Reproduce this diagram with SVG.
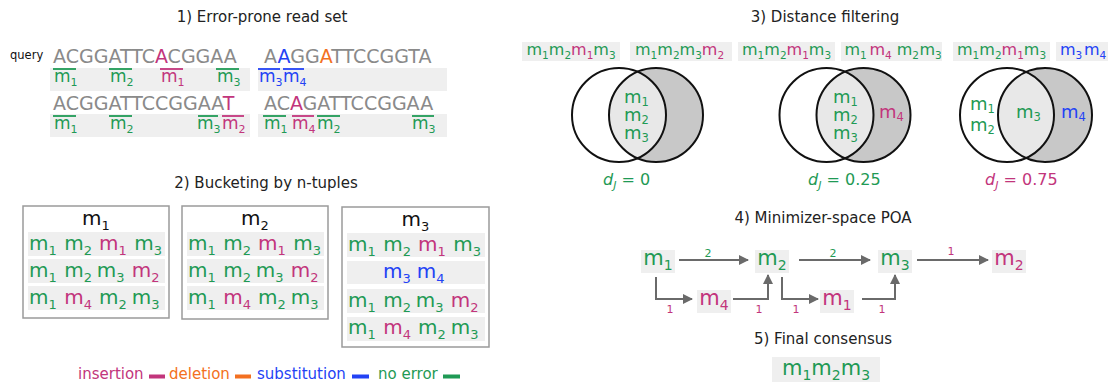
<svg xmlns="http://www.w3.org/2000/svg" width="1111" height="383" viewBox="0 0 1111 383">
<style>
  text { font-family: "DejaVu Sans", "Noto Sans", sans-serif; }
  .title { font-size: 15px; fill: #222; text-anchor: middle; }
  .g { fill: #1f9a55; } .mg { fill: #c2357c; } .b { fill: #2342f5; } .o { fill: #f37021; } .k { fill: #111; }
  .seq { font-size: 19px; fill: #8a8a8a; }
  .band { fill: #efefef; }
  .lab { font-size: 17px; } .lab tspan { font-size: 11px; }
  .bk { font-size: 20px; } .bk tspan { font-size: 13px; }
  .hd { font-size: 20px; fill: #111; text-anchor: middle; } .hd tspan { font-size: 13px; }
  .tag { font-size: 16px; } .tag .s { font-size: 10.5px; }
  .vn { font-size: 18px; } .vn tspan { font-size: 11.5px; }
  .poa { font-size: 21px; text-anchor: middle; } .poa .s { font-size: 14px; }
  .el { font-size: 11px; text-anchor: middle; }
  .dj { font-size: 16px; } .dj .i { font-style: italic; } .dj .sj { font-style: italic; font-size: 11px; }
  .leg { font-size: 15px; }
  .ol { stroke-width: 1.8; }
  .olg { stroke: #1f9a55; } .olm { stroke: #c2357c; } .olb { stroke: #2342f5; }
  .box { fill: none; stroke: #9a9a9a; stroke-width: 1.5; }
  .circ { fill: none; stroke: #111; stroke-width: 2; }
  .edge { fill: none; stroke: #6a6a6a; stroke-width: 2; }
</style>
<defs>
  <marker id="arr" viewBox="0 0 10 10" refX="9" refY="5" markerWidth="5" markerHeight="5" orient="auto" markerUnits="strokeWidth">
    <path d="M0,0 L10,5 L0,10 z" fill="#6a6a6a"/>
  </marker>
  <clipPath id="cl1"><circle cx="619" cy="115" r="47"/></clipPath>
  <clipPath id="cl2"><circle cx="826.5" cy="115" r="47"/></clipPath>
  <clipPath id="cl3"><circle cx="1007" cy="115" r="47"/></clipPath>
</defs>

<!-- titles -->
<g id="titles">
  <text class="title" x="262" y="22">1) Error-prone read set</text>
  <text class="title" x="266" y="188">2) Bucketing by n-tuples</text>
  <text class="title" x="825" y="22">3) Distance filtering</text>
  <text class="title" x="823" y="223">4) Minimizer-space POA</text>
  <text class="title" x="823" y="344">5) Final consensus</text>
</g>

<!-- 1) reads with their minimizers -->
<g id="reads">
  <text x="10" y="59" font-size="11.5" fill="#111">query</text>
  <rect class="band" x="50" y="68" width="200" height="23"/>
  <rect class="band" x="258" y="68" width="189" height="23"/>
  <rect class="band" x="50" y="114" width="200" height="23"/>
  <rect class="band" x="258" y="114" width="189" height="23"/>

  <text class="seq" x="53" y="63">ACGGATTC<tspan class="mg">A</tspan>CGGAA</text>
  <text class="seq" x="264" y="63">A<tspan class="b">A</tspan>GG<tspan class="o">A</tspan>TTCCGGTA</text>
  <text class="seq" x="53" y="110">ACGGATTCCGGAA<tspan class="mg">T</tspan></text>
  <text class="seq" x="264" y="110">AC<tspan class="mg">A</tspan>GATTCCGGAA</text>

  <!-- overlines -->
  <g class="ol">
    <line class="olg" x1="53" y1="69" x2="76" y2="69"/>
    <line class="olg" x1="109" y1="69" x2="132" y2="69"/>
    <line class="olm" x1="160" y1="69" x2="183" y2="69"/>
    <line class="olg" x1="216" y1="69" x2="239" y2="69"/>
    <line class="olb" x1="258" y1="69" x2="280" y2="69"/>
    <line class="olb" x1="283" y1="69" x2="304" y2="69"/>
    <line class="olg" x1="53" y1="116" x2="76" y2="116"/>
    <line class="olg" x1="109" y1="116" x2="132" y2="116"/>
    <line class="olg" x1="198" y1="116" x2="218" y2="116"/>
    <line class="olm" x1="222" y1="116" x2="244" y2="116"/>
    <line class="olg" x1="263" y1="116" x2="286" y2="116"/>
    <line class="olm" x1="292" y1="116" x2="314" y2="116"/>
    <line class="olg" x1="317" y1="116" x2="340" y2="116"/>
    <line class="olg" x1="412" y1="116" x2="434" y2="116"/>
  </g>
  <text class="lab g" x="54" y="82">m<tspan dy="4">1</tspan></text>
  <text class="lab g" x="110" y="82">m<tspan dy="4">2</tspan></text>
  <text class="lab mg" x="161" y="82">m<tspan dy="4">1</tspan></text>
  <text class="lab g" x="217" y="82">m<tspan dy="4">3</tspan></text>
  <text class="lab b" x="259" y="82">m<tspan dy="4">3</tspan></text>
  <text class="lab b" x="283" y="82">m<tspan dy="4">4</tspan></text>
  <text class="lab g" x="54" y="129">m<tspan dy="4">1</tspan></text>
  <text class="lab g" x="110" y="129">m<tspan dy="4">2</tspan></text>
  <text class="lab g" x="197" y="129">m<tspan dy="4">3</tspan></text>
  <text class="lab mg" x="222" y="129">m<tspan dy="4">2</tspan></text>
  <text class="lab g" x="264" y="129">m<tspan dy="4">1</tspan></text>
  <text class="lab mg" x="292" y="129">m<tspan dy="4">4</tspan></text>
  <text class="lab g" x="317" y="129">m<tspan dy="4">2</tspan></text>
  <text class="lab g" x="412" y="129">m<tspan dy="4">3</tspan></text>
</g>

<!-- 2) buckets -->
<g id="bucket-m1">
  <rect class="box" x="23" y="206" width="146" height="112"/>
  <text class="hd" x="96" y="225">m<tspan dy="5">1</tspan></text>
  <rect class="band" x="28" y="232" width="137" height="24"/>
  <rect class="band" x="28" y="259" width="137" height="24"/>
  <rect class="band" x="28" y="286" width="137" height="24"/>
  <text class="bk g" x="29" y="250">m<tspan dy="5">1</tspan></text>
  <text class="bk g" x="64.3" y="250">m<tspan dy="5">2</tspan></text>
  <text class="bk mg" x="99" y="250">m<tspan dy="5">1</tspan></text>
  <text class="bk g" x="134.3" y="250">m<tspan dy="5">3</tspan></text>
  <text class="bk g" x="29" y="277">m<tspan dy="5">1</tspan></text>
  <text class="bk g" x="64.3" y="277">m<tspan dy="5">2</tspan></text>
  <text class="bk g" x="96.7" y="277">m<tspan dy="5">3</tspan></text>
  <text class="bk mg" x="131.7" y="277">m<tspan dy="5">2</tspan></text>
  <text class="bk g" x="29" y="304">m<tspan dy="5">1</tspan></text>
  <text class="bk mg" x="64.3" y="304">m<tspan dy="5">4</tspan></text>
  <text class="bk g" x="99" y="304">m<tspan dy="5">2</tspan></text>
  <text class="bk g" x="131.7" y="304">m<tspan dy="5">3</tspan></text>
</g>
<g id="bucket-m2">
  <rect class="box" x="182" y="206" width="146" height="113"/>
  <text class="hd" x="255" y="225">m<tspan dy="5">2</tspan></text>
  <rect class="band" x="187" y="232" width="137" height="24"/>
  <rect class="band" x="187" y="259" width="137" height="24"/>
  <rect class="band" x="187" y="286" width="137" height="24"/>
  <text class="bk g" x="188" y="250">m<tspan dy="5">1</tspan></text>
  <text class="bk g" x="223.3" y="250">m<tspan dy="5">2</tspan></text>
  <text class="bk mg" x="258" y="250">m<tspan dy="5">1</tspan></text>
  <text class="bk g" x="293.3" y="250">m<tspan dy="5">3</tspan></text>
  <text class="bk g" x="188" y="277">m<tspan dy="5">1</tspan></text>
  <text class="bk g" x="223.3" y="277">m<tspan dy="5">2</tspan></text>
  <text class="bk g" x="255.7" y="277">m<tspan dy="5">3</tspan></text>
  <text class="bk mg" x="290.7" y="277">m<tspan dy="5">2</tspan></text>
  <text class="bk g" x="188" y="304">m<tspan dy="5">1</tspan></text>
  <text class="bk mg" x="223.3" y="304">m<tspan dy="5">4</tspan></text>
  <text class="bk g" x="258" y="304">m<tspan dy="5">2</tspan></text>
  <text class="bk g" x="290.7" y="304">m<tspan dy="5">3</tspan></text>
</g>
<g id="bucket-m3">
  <rect class="box" x="342" y="207" width="147" height="140"/>
  <text class="hd" x="415.5" y="226">m<tspan dy="5">3</tspan></text>
  <rect class="band" x="347" y="233" width="138" height="24"/>
  <rect class="band" x="347" y="261" width="138" height="23"/>
  <rect class="band" x="347" y="289" width="138" height="24"/>
  <rect class="band" x="347" y="317" width="138" height="24"/>
  <text class="bk g" x="348" y="251">m<tspan dy="5">1</tspan></text>
  <text class="bk g" x="383.3" y="251">m<tspan dy="5">2</tspan></text>
  <text class="bk mg" x="418" y="251">m<tspan dy="5">1</tspan></text>
  <text class="bk g" x="453.3" y="251">m<tspan dy="5">3</tspan></text>
  <text class="bk b" x="383" y="278">m<tspan dy="5">3</tspan></text>
  <text class="bk b" x="416.7" y="278">m<tspan dy="5">4</tspan></text>
  <text class="bk g" x="348" y="307">m<tspan dy="5">1</tspan></text>
  <text class="bk g" x="383.3" y="307">m<tspan dy="5">2</tspan></text>
  <text class="bk g" x="415.7" y="307">m<tspan dy="5">3</tspan></text>
  <text class="bk mg" x="450.7" y="307">m<tspan dy="5">2</tspan></text>
  <text class="bk g" x="348" y="334">m<tspan dy="5">1</tspan></text>
  <text class="bk mg" x="383.3" y="334">m<tspan dy="5">4</tspan></text>
  <text class="bk g" x="418" y="334">m<tspan dy="5">2</tspan></text>
  <text class="bk g" x="450.7" y="334">m<tspan dy="5">3</tspan></text>
</g>

<!-- legend -->
<g id="legend">
  <text class="leg mg" x="78" y="379">insertion</text>
  <rect x="149" y="374.5" width="16" height="4" fill="#c2357c"/>
  <text class="leg o" x="169" y="379">deletion</text>
  <rect x="235" y="374.5" width="16" height="4" fill="#f37021"/>
  <text class="leg b" x="257" y="379">substitution</text>
  <rect x="352" y="374.5" width="17" height="4" fill="#2342f5"/>
  <text class="leg g" x="378" y="379">no error</text>
  <rect x="443" y="374.5" width="17" height="4" fill="#1f9a55"/>
</g>

<!-- 3) pairs compared by Jaccard distance -->
<g id="pair-tags">
  <rect class="band" x="522" y="42" width="98" height="19"/>
  <rect class="band" x="630" y="42" width="102" height="19"/>
  <rect class="band" x="738" y="42" width="97" height="19"/>
  <rect class="band" x="841" y="42" width="101" height="19"/>
  <rect class="band" x="953" y="42" width="97" height="19"/>
  <rect class="band" x="1056" y="42" width="52" height="19"/>
  <text class="tag" x="526.5" y="55"><tspan class="g">m</tspan><tspan class="g s" dy="3.5">1</tspan><tspan class="g" dy="-3.5">m</tspan><tspan class="g s" dy="3.5">2</tspan><tspan class="mg" dy="-3.5">m</tspan><tspan class="mg s" dy="3.5">1</tspan><tspan class="g" dy="-3.5">m</tspan><tspan class="g s" dy="3.5">3</tspan></text>
  <text class="tag" x="635" y="55"><tspan class="g">m</tspan><tspan class="g s" dy="3.5">1</tspan><tspan class="g" dy="-3.5">m</tspan><tspan class="g s" dy="3.5">2</tspan><tspan class="g" dy="-3.5">m</tspan><tspan class="g s" dy="3.5">3</tspan><tspan class="mg" dy="-3.5">m</tspan><tspan class="mg s" dy="3.5">2</tspan></text>
  <text class="tag" x="742" y="55"><tspan class="g">m</tspan><tspan class="g s" dy="3.5">1</tspan><tspan class="g" dy="-3.5">m</tspan><tspan class="g s" dy="3.5">2</tspan><tspan class="mg" dy="-3.5">m</tspan><tspan class="mg s" dy="3.5">1</tspan><tspan class="g" dy="-3.5">m</tspan><tspan class="g s" dy="3.5">3</tspan></text>
  <text class="tag g" x="844.5" y="55">m<tspan class="s" dy="3.5">1</tspan></text>
  <text class="tag mg" x="869.4" y="55">m<tspan class="s" dy="3.5">4</tspan></text>
  <text class="tag g" x="896.7" y="55">m<tspan class="s" dy="3.5">2</tspan></text>
  <text class="tag g" x="919.5" y="55">m<tspan class="s" dy="3.5">3</tspan></text>
  <text class="tag" x="957" y="55"><tspan class="g">m</tspan><tspan class="g s" dy="3.5">1</tspan><tspan class="g" dy="-3.5">m</tspan><tspan class="g s" dy="3.5">2</tspan><tspan class="mg" dy="-3.5">m</tspan><tspan class="mg s" dy="3.5">1</tspan><tspan class="g" dy="-3.5">m</tspan><tspan class="g s" dy="3.5">3</tspan></text>
  <text class="tag b" x="1060" y="55">m<tspan class="s" dy="3.5">3</tspan></text>
  <text class="tag b" x="1084" y="55">m<tspan class="s" dy="3.5">4</tspan></text>
</g>

<g id="venn-1">
  <circle cx="656" cy="115" r="47" fill="#c8c8c8"/>
  <circle cx="656" cy="115" r="47" fill="#e8e8e8" clip-path="url(#cl1)"/>
  <circle class="circ" cx="619" cy="115" r="47"/>
  <circle class="circ" cx="656" cy="115" r="47"/>
  <text class="vn g" x="624" y="103">m<tspan dy="3">1</tspan></text>
  <text class="vn g" x="624" y="121">m<tspan dy="3">2</tspan></text>
  <text class="vn g" x="624" y="139">m<tspan dy="3">3</tspan></text>
  <text class="dj g" x="603" y="185"><tspan class="i">d</tspan><tspan class="sj" dy="4">J</tspan><tspan dy="-4"> = 0</tspan></text>
</g>
<g id="venn-2">
  <circle cx="863.5" cy="115" r="47" fill="#c8c8c8"/>
  <circle cx="863.5" cy="115" r="47" fill="#e8e8e8" clip-path="url(#cl2)"/>
  <circle class="circ" cx="826.5" cy="115" r="47"/>
  <circle class="circ" cx="863.5" cy="115" r="47"/>
  <text class="vn g" x="833" y="103">m<tspan dy="3">1</tspan></text>
  <text class="vn g" x="833" y="121">m<tspan dy="3">2</tspan></text>
  <text class="vn g" x="833" y="139">m<tspan dy="3">3</tspan></text>
  <text class="vn mg" x="879" y="118">m<tspan dy="3">4</tspan></text>
  <text class="dj g" x="808" y="185"><tspan class="i">d</tspan><tspan class="sj" dy="4">J</tspan><tspan dy="-4"> = 0.25</tspan></text>
</g>
<g id="venn-3">
  <circle cx="1045" cy="115" r="47" fill="#c8c8c8"/>
  <circle cx="1045" cy="115" r="47" fill="#e8e8e8" clip-path="url(#cl3)"/>
  <circle class="circ" cx="1007" cy="115" r="47"/>
  <circle class="circ" cx="1045" cy="115" r="47"/>
  <text class="vn g" x="970" y="110">m<tspan dy="3">1</tspan></text>
  <text class="vn g" x="970" y="131">m<tspan dy="3">2</tspan></text>
  <text class="vn g" x="1016" y="118">m<tspan dy="3">3</tspan></text>
  <text class="vn b" x="1061" y="118">m<tspan dy="3">4</tspan></text>
  <text class="dj mg" x="985" y="185"><tspan class="i">d</tspan><tspan class="sj" dy="4">J</tspan><tspan dy="-4"> = 0.75</tspan></text>
</g>

<!-- 4) POA graph: nodes -->
<g id="node-m1">
  <rect class="band" x="641" y="250" width="34" height="23"/>
  <text class="poa g" x="658" y="265">m<tspan class="s" dy="5">1</tspan></text>
</g>
<g id="node-m2">
  <rect class="band" x="755" y="250" width="34" height="23"/>
  <text class="poa g" x="772" y="265">m<tspan class="s" dy="5">2</tspan></text>
</g>
<g id="node-m3">
  <rect class="band" x="878" y="250" width="34" height="23"/>
  <text class="poa g" x="895" y="265">m<tspan class="s" dy="5">3</tspan></text>
</g>
<g id="node-m2-ins">
  <rect class="band" x="992" y="250" width="34" height="23"/>
  <text class="poa mg" x="1009" y="265">m<tspan class="s" dy="5">2</tspan></text>
</g>
<g id="node-m4">
  <rect class="band" x="697" y="290" width="34" height="23"/>
  <text class="poa mg" x="714" y="305">m<tspan class="s" dy="5">4</tspan></text>
</g>
<g id="node-m1-ins">
  <rect class="band" x="820" y="290" width="34" height="23"/>
  <text class="poa mg" x="837" y="305">m<tspan class="s" dy="5">1</tspan></text>
</g>

<!-- POA graph: weighted edges -->
<g id="edges">
  <line class="edge" x1="679" y1="260" x2="748" y2="260" marker-end="url(#arr)"/>
  <line class="edge" x1="799" y1="260" x2="870" y2="260" marker-end="url(#arr)"/>
  <line class="edge" x1="917" y1="260" x2="988" y2="260" marker-end="url(#arr)"/>
  <path class="edge" d="M656,277 V299 H692" marker-end="url(#arr)"/>
  <path class="edge" d="M733,299 H768 V275" marker-end="url(#arr)"/>
  <path class="edge" d="M782,277 V299 H818" marker-end="url(#arr)"/>
  <path class="edge" d="M862,299 H895 V275" marker-end="url(#arr)"/>
  <text class="el g" x="708" y="257">2</text>
  <text class="el g" x="833" y="257">2</text>
  <text class="el mg" x="951" y="255">1</text>
  <text class="el mg" x="670" y="313">1</text>
  <text class="el mg" x="759" y="313">1</text>
  <text class="el mg" x="796" y="313">1</text>
  <text class="el mg" x="882" y="313">1</text>
</g>

<!-- 5) consensus -->
<g id="consensus">
  <rect class="band" x="772" y="357" width="108" height="25"/>
  <text class="poa" x="826" y="375"><tspan class="g">m</tspan><tspan class="g s" dy="5">1</tspan><tspan class="g" dy="-5">m</tspan><tspan class="g s" dy="5">2</tspan><tspan class="g" dy="-5">m</tspan><tspan class="g s" dy="5">3</tspan></text>
</g>
</svg>
